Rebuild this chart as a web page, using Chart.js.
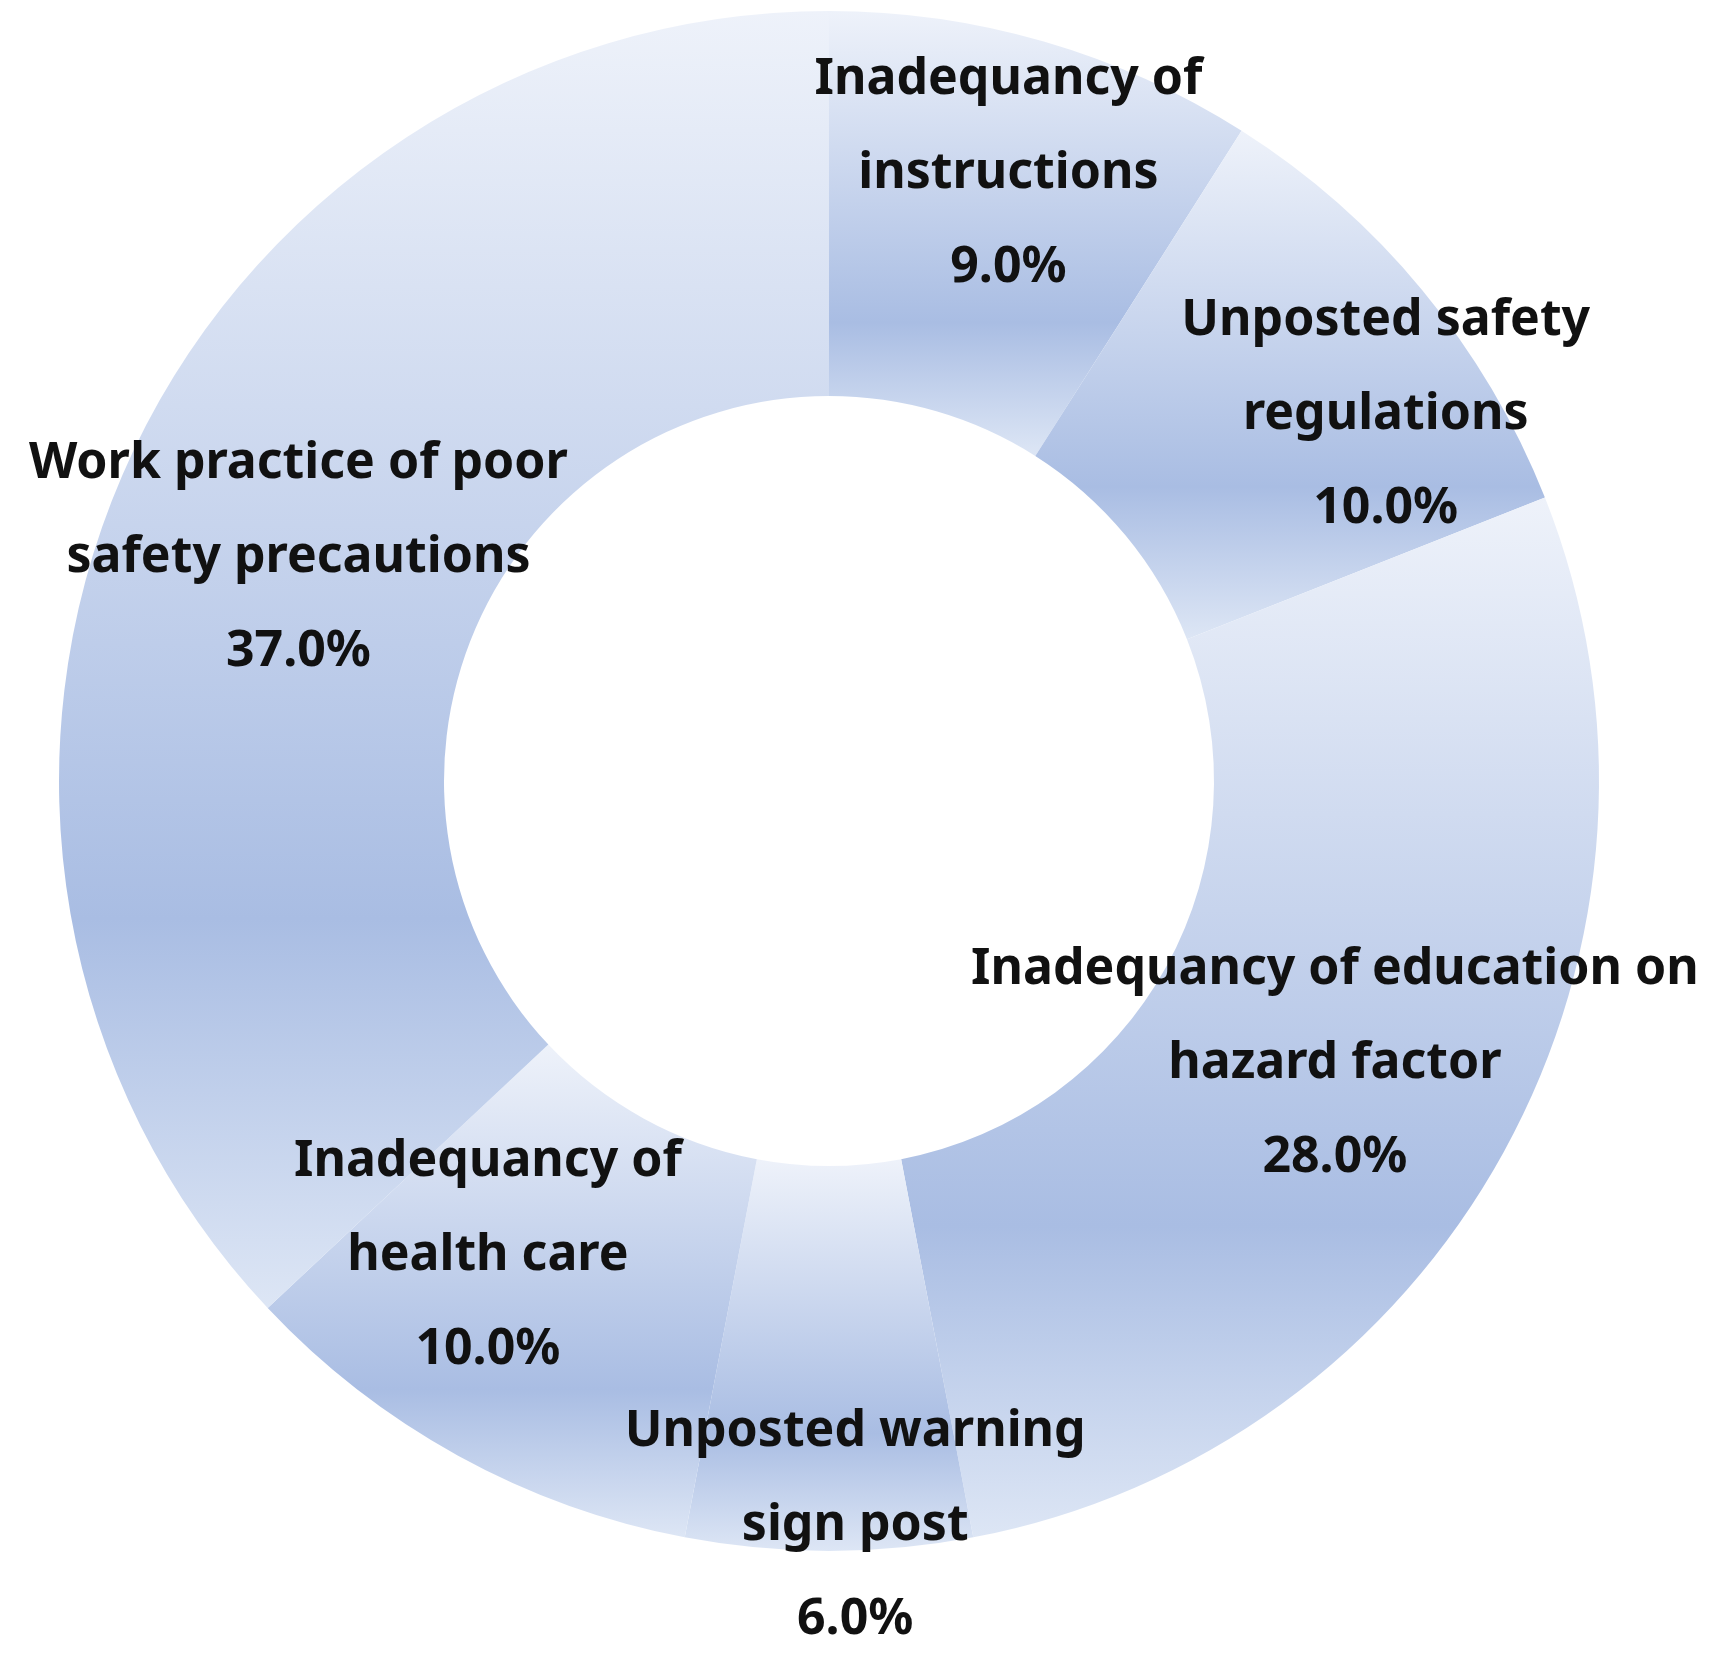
<!DOCTYPE html>
<html>
<head>
<meta charset="utf-8">
<script src="https://cdn.jsdelivr.net/npm/chart.js@4/dist/chart.umd.min.js"></script>
<style>
  html, body { margin: 0; padding: 0; background: #fff; }
  #wrap { width: 1729px; height: 1662px; }
</style>
</head>
<body>
<div id="wrap"><canvas id="donut"></canvas></div>
<script>
// ── Data ──────────────────────────────────────────
const categories = [
    ['Inadequancy of', 'instructions'],
    ['Unposted safety', 'regulations'],
    ['Inadequancy of education on', 'hazard factor'],
    ['Unposted warning', 'sign post'],
    ['Inadequancy of', 'health care'],
    ['Work practice of poor', 'safety precautions']
];
const shares = [9.0, 10.0, 28.0, 6.0, 10.0, 37.0];

// label block centres, as fractions of the outer radius from the chart centre
const labelAnchors = [
    [0.233, -0.789], [0.723, -0.476], [0.657, 0.367],
    [0.034, 0.967], [-0.443, 0.617], [-0.689, -0.290]
];

const LIGHT = '#eef2fa';
const DARK = '#a9bde3';

// vertical light-dark-light gradient spanning each slice's bounding box
function sliceFill(ctx) {
    const chart = ctx.chart;
    const area = chart.chartArea;
    if (!area) return DARK;
    const cy = (area.top + area.bottom) / 2;
    const R = Math.min(area.right - area.left, area.bottom - area.top) / 2;
    const total = shares.reduce((a, b) => a + b, 0);
    let start = 0;
    for (let i = 0; i < ctx.dataIndex; i++) start += shares[i];
    const a0 = start / total * 2 * Math.PI - Math.PI / 2;
    const a1 = (start + shares[ctx.dataIndex]) / total * 2 * Math.PI - Math.PI / 2;
    let top = Infinity, bottom = -Infinity;
    for (let k = 0; k <= 40; k++) {
        const a = a0 + (a1 - a0) * k / 40;
        [R, R * 0.5].forEach(r => {
            const y = cy + r * Math.sin(a);
            top = Math.min(top, y);
            bottom = Math.max(bottom, y);
        });
    }
    const g = chart.ctx.createLinearGradient(0, top, 0, bottom);
    g.addColorStop(0, LIGHT);
    g.addColorStop(0.7, DARK);
    g.addColorStop(1, '#dde6f5');
    return g;
}

// ── Labels ────────────────────────────────────────
const sliceLabels = {
    id: 'sliceLabels',
    afterDatasetsDraw(chart) {
        const c = chart.ctx;
        const meta = chart.getDatasetMeta(0);
        c.save();
        c.font = 'bold 50px "Noto Sans", sans-serif';
        c.fillStyle = '#111';
        c.textAlign = 'center';
        c.textBaseline = 'middle';
        meta.data.forEach((arc, i) => {
            const R = arc.outerRadius;
            const px = arc.x + labelAnchors[i][0] * R;
            const py = arc.y + labelAnchors[i][1] * R;
            const lines = categories[i].concat([shares[i].toFixed(1) + '%']);
            const lh = 94;
            lines.forEach((t, j) => {
                c.fillText(t, px, py + (j - (lines.length - 1) / 2) * lh);
            });
        });
        c.restore();
    }
};

new Chart(document.getElementById('donut'), {
    type: 'doughnut',
    data: {
        labels: categories.map(l => l.join(' ')),
        datasets: [{
            data: shares,
            backgroundColor: sliceFill,
            borderWidth: 0
        }]
    },
    options: {
        responsive: true,
        maintainAspectRatio: false,
        animation: false,
        cutout: '50%',
        layout: { padding: { top: 11, bottom: 111, left: 59, right: 130 } },
        plugins: { legend: { display: false }, tooltip: { enabled: false } }
    },
    plugins: [sliceLabels]
});
</script>
</body>
</html>
